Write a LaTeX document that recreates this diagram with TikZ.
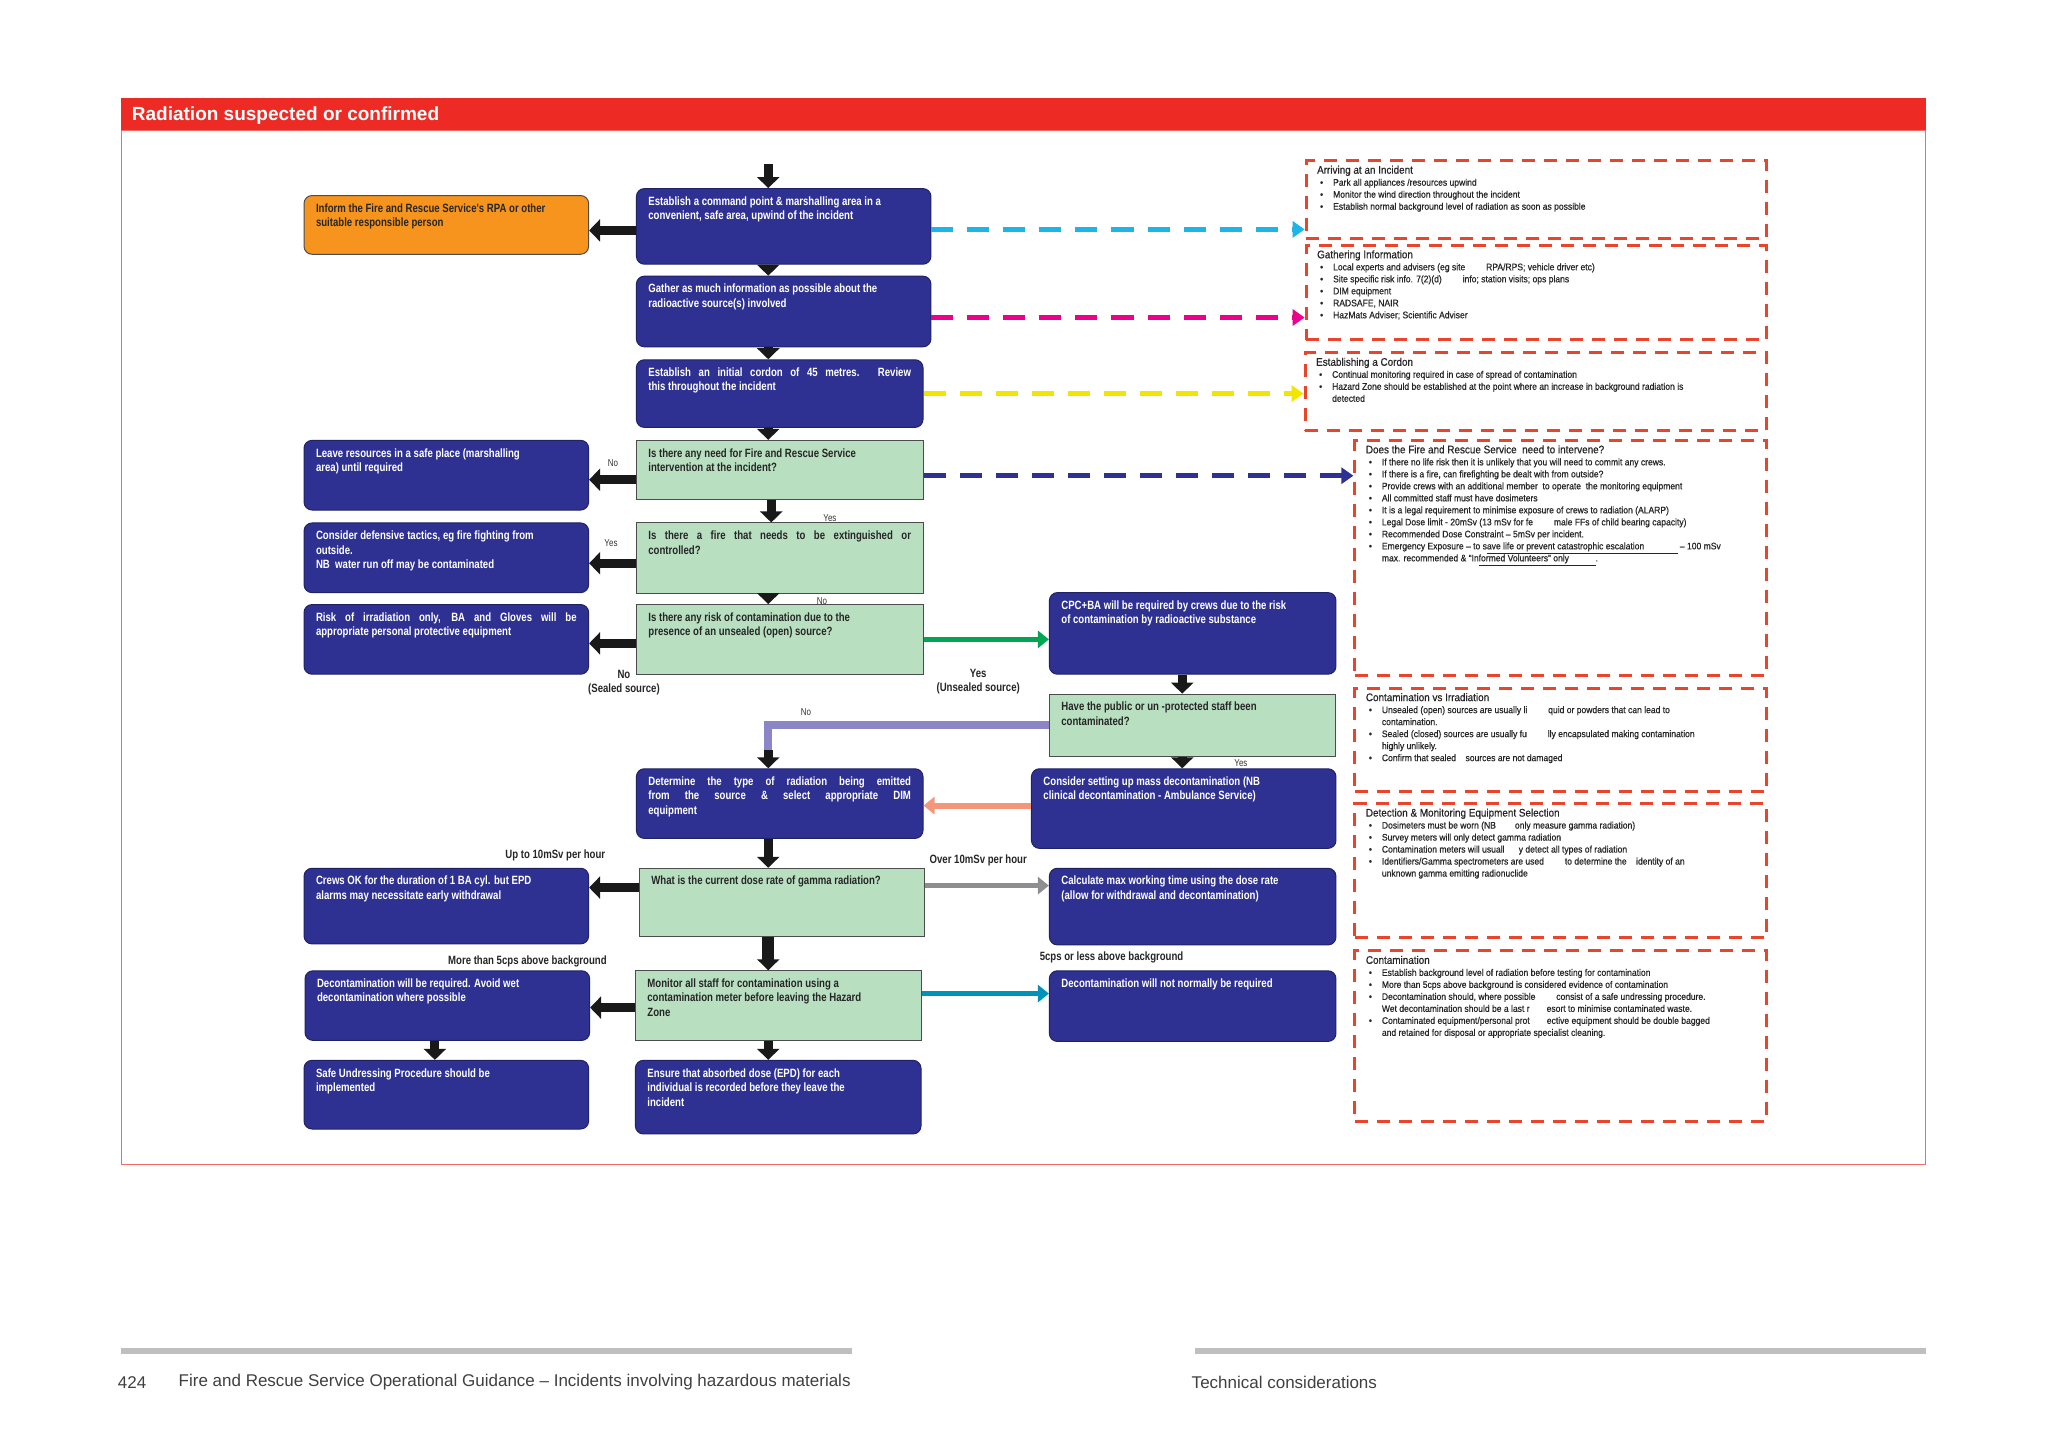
\documentclass[tikz,border=0pt]{standalone}
\usepackage{fontspec}
\setmainfont{Liberation Sans}
\newfontfamily\nar[FakeStretch=0.8]{Liberation Sans}
\newfontfamily\dsf[FakeStretch=0.9,FakeBold=0.6]{Liberation Sans}
\usetikzlibrary{arrows.meta,calc}
\definecolor{navy}{HTML}{2E3192}
\definecolor{gbox}{HTML}{B9DFC1}
\definecolor{orng}{HTML}{F7941D}
\definecolor{rred}{HTML}{EE2A24}
\definecolor{dred}{HTML}{E8452C}
\definecolor{cyn}{HTML}{1CB5E8}
\definecolor{mag}{HTML}{EC008C}
\definecolor{yel}{HTML}{F2E600}
\definecolor{grn}{HTML}{00A651}
\definecolor{purp}{HTML}{8C86C6}
\definecolor{salm}{HTML}{F4967A}
\definecolor{gry}{HTML}{8E8E90}
\definecolor{teal}{HTML}{0093B8}
\newcommand\bx[7]{%
 \pgfmathsetlengthmacro\bw{(#5-#3)*0.995pt-24pt}%
 \pgfmathsetlengthmacro\bh{(#6-#4)*0.995pt-16pt}%
 \node[#2, anchor=north west, inner xsep=12pt, inner ysep=8pt] (#1) at (#3,#4) {\parbox[c][\bh][t]{\bw}{#7}};}
\newcommand\dbx[6]{%
 \pgfmathsetlengthmacro\bw{(#5-#3)*0.995pt-22pt}%
 \pgfmathsetlengthmacro\bh{(#6-#4)*0.995pt-10pt}%
 \node[dbox, anchor=north west, inner xsep=11pt, inner ysep=5pt] (#1) at (#3,#4) {\parbox[c][\bh][t]{\bw}{#2}};}
\newcommand\bl[1]{\par\hangindent=16pt\hangafter=1\noindent\makebox[16pt][l]{\hspace{3pt}•}#1}
\newcommand\ttl[1]{{\fontsize{11}{13}\selectfont #1}}
\begin{document}
\begin{tikzpicture}[x=0.995pt,y=-0.995pt,
 blue/.style={draw=navy!70!black, line width=1pt, fill=navy, rounded corners=8pt, text=white, font=\nar\bfseries\fontsize{12}{14.5}\selectfont},
 gbx/.style={draw=black!70, line width=1pt, fill=gbox, text=black!85, font=\nar\bfseries\fontsize{12}{14.5}\selectfont},
 obx/.style={draw=black!70, line width=1pt, fill=orng, rounded corners=8pt, text=black!85, font=\nar\bfseries\fontsize{12}{14.5}\selectfont},
 dbox/.style={draw=dred, line width=3pt, dash pattern=on 13pt off 9pt, text=black!85, font=\dsf\fontsize{9.5}{12}\selectfont},
 blk/.style={line width=9pt, draw=black!90, -{Triangle[length=11pt,width=22pt]}},
 cdash/.style={line width=4.5pt, dash pattern=on 22pt off 14pt, -{Triangle[length=12pt,width=16pt]}},
 lab/.style={text=black!80, font=\nar\fontsize{10}{12}\selectfont},
 labb/.style={text=black!85, font=\nar\bfseries\fontsize{12}{14}\selectfont, align=center}]
\useasboundingbox (0,0) rectangle (2058,1455);
\fill[white] (0,0) rectangle (2058,1455);
% frame
\draw[rred!70, line width=1pt] (122,131) rectangle (1935,1170);
\fill[rred] (122,98) rectangle (1935,131);
\node[anchor=west, text=white, font=\bfseries\fontsize{19}{21}\selectfont] (hdr) at (129,116) {Radiation suspected or confirmed};
% footer
\fill[black!25] (122,1355) rectangle (856,1361);
\fill[black!25] (1201,1355) rectangle (1935,1361);
\node[anchor=west, text=black!75, font=\fontsize{17}{19}\selectfont] (pg) at (115,1389) {424};
\node[anchor=west, text=black!75, font=\fontsize{17}{19}\selectfont] (ft) at (176,1389) {Fire and Rescue Service Operational Guidance – Incidents involving hazardous materials};
\node[anchor=west, text=black!75, font=\fontsize{17}{19}\selectfont] (tc) at (1194,1389) {Technical considerations};
% boxes
\bx{or}{obx}{305}{196}{591}{255}{Inform the Fire and Rescue Service's RPA or other\\suitable responsible person}
\bx{b1}{blue}{639}{189}{935}{265}{Establish a command point \& marshalling area in a\\convenient, safe area, upwind of the incident}
\bx{b2}{blue}{639}{277}{935}{348}{Gather as much information as possible about the\\radioactive source(s) involved}
\bx{b3}{blue}{639}{361}{927}{429}{Establish an initial cordon of 45 metres. Review\linebreak this throughout the incident}
\bx{g1}{gbx}{639}{442}{927}{501}{Is there any need for Fire and Rescue Service\\intervention at the incident?}
\bx{g2}{gbx}{639}{525}{927}{596}{Is there a fire that needs to be extinguished or\linebreak controlled?}
\bx{g3}{gbx}{639}{607}{927}{677}{Is there any risk of contamination due to the\\presence of an unsealed (open) source?}
\bx{l1}{blue}{305}{442}{591}{512}{Leave resources in a safe place (marshalling\\area) until required}
\bx{l2}{blue}{305}{525}{591}{595}{Consider defensive tactics, eg fire fighting from\\outside.\\NB\ \ water run off may be contaminated}
\bx{l3}{blue}{305}{607}{591}{677}{Risk of irradiation only, BA and Gloves will be\linebreak appropriate personal protective equipment}
\bx{cpc}{blue}{1054}{595}{1342}{677}{CPC+BA will be required by crews due to the risk\\of contamination by radioactive substance}
\bx{hp}{gbx}{1054}{697}{1342}{760}{Have the public or un -protected staff been\\contaminated?}
\bx{det}{blue}{639}{772}{927}{842}{Determine the type of radiation being emitted\linebreak from the source \& select appropriate DIM\linebreak equipment}
\bx{cm}{blue}{1036}{772}{1342}{852}{Consider setting up mass decontamination (NB\\clinical decontamination - Ambulance Service)}
\bx{wd}{gbx}{642}{872}{929}{941}{What is the current dose rate of gamma radiation?}
\bx{co}{blue}{305}{872}{591}{948}{Crews OK for the duration of 1 BA cyl. but EPD\\alarms may necessitate early withdrawal}
\bx{cal}{blue}{1054}{872}{1342}{949}{Calculate max working time using the dose rate\\(allow for withdrawal and decontamination)}
\bx{mon}{gbx}{638}{975}{925}{1045}{Monitor all staff for contamination using a\\contamination meter before leaving the Hazard\\Zone}
\bx{dr}{blue}{306}{975}{592}{1045}{Decontamination will be required. Avoid wet\\decontamination where possible}
\bx{dn}{blue}{1054}{975}{1342}{1046}{Decontamination will not normally be required}
\bx{su}{blue}{305}{1065}{591}{1134}{Safe Undressing Procedure should be\\implemented}
\bx{en}{blue}{638}{1065}{925}{1139}{Ensure that absorbed dose (EPD) for each\\individual is recorded before they leave the\\incident}
% dashed info boxes
\dbx{d1}{\ttl{Arriving at an Incident}\bl{Park all appliances /resources upwind}\bl{Monitor the wind direction throughout the incident}\bl{Establish normal background level of radiation as soon as possible}}{1311}{160}{1774}{238}
\dbx{d2}{\ttl{Gathering Information}\bl{Local experts and advisers (eg site\hspace{2.2em}RPA/RPS; vehicle driver etc)}\bl{Site specific risk info. 7(2)(d)\hspace{2.2em}info; station visits; ops plans}\bl{DIM equipment}\bl{RADSAFE, NAIR}\bl{HazMats Adviser; Scientific Adviser}}{1311}{245}{1774}{340}
\dbx{d3}{\ttl{Establishing a Cordon}\bl{Continual monitoring required in case of spread of contamination}\bl{Hazard Zone should be established at the point where an increase in background radiation is\\detected}}{1310}{353}{1774}{431}
\dbx{d4}{\ttl{Does the Fire and Rescue Service\ \ need to intervene?}\bl{If there no life risk then it is unlikely that you will need to commit any crews.}\bl{If there is a fire, can firefighting be dealt with from outside?}\bl{Provide crews with an additional member\ \ to operate\ \ the monitoring equipment}\bl{All committed staff must have dosimeters}\bl{It is a legal requirement to minimise exposure of crews to radiation (ALARP)}\bl{Legal Dose limit - 20mSv (13 mSv for fe\hspace{2.2em}male FFs of child bearing capacity)}\bl{Recommended Dose Constraint – 5mSv per incident.}\bl{Emergency Exposure – to s\underline{ave life or prevent catastrophic escalation\hspace{3.5em}} – 100 mSv\\max. recommended \& “In\underline{formed Volunteers” only\hspace{2.8em}}.}}{1360}{441}{1774}{677}
\dbx{d5}{\ttl{Contamination vs Irradiation}\bl{Unsealed (open) sources are usually li\hspace{2.2em}quid or powders that can lead to\\contamination.}\bl{Sealed (closed) sources are usually fu\hspace{2.2em}lly encapsulated making contamination\\highly unlikely.}\bl{Confirm that sealed\hspace{1em}sources are not damaged}}{1360}{690}{1774}{794}
\dbx{d6}{\ttl{Detection \& Monitoring Equipment Selection}\bl{Dosimeters must be worn (NB\hspace{2em}only measure gamma radiation)}\bl{Survey meters will only detect gamma radiation}\bl{Contamination meters will usuall\hspace{1.5em}y detect all types of radiation}\bl{Identifiers/Gamma spectrometers are used\hspace{2.2em}to determine the\hspace{1em}identity of an\\unknown gamma emitting radionuclide}}{1360}{806}{1774}{941}
\dbx{d7}{\ttl{Contamination}\bl{Establish background level of radiation before testing for contamination}\bl{More than 5cps above background is considered evidence of contamination}\bl{Decontamination should, where possible\hspace{2.2em}consist of a safe undressing procedure.\\Wet decontamination should be a last r\hspace{1.8em}esort to minimise contaminated waste.}\bl{Contaminated equipment/personal prot\hspace{1.8em}ective equipment should be double bagged\\and retained for disposal or appropriate specialist cleaning.}}{1360}{954}{1774}{1125}
% coordinates
\coordinate (cx) at (772,165);
\coordinate (rx) at (1188,0);
\coordinate (lx) at (437,0);
% vertical arrows
\draw[blk] (cx) -- (b1.north -| cx);
\draw[blk] (b1.south -| cx) -- (b2.north -| cx);
\draw[blk] (b2.south -| cx) -- (b3.north -| cx);
\draw[blk] (b3.south -| cx) -- (g1.north -| cx);
\draw[blk] ($(g1.south -| cx)+(3,0)$) -- ($(g2.north -| cx)+(3,0)$);
\draw[blk] (g2.south -| cx) -- (g3.north -| cx);
\draw[blk] (cpc.south -| rx) -- (hp.north -| rx);
\draw[blk] (hp.south -| rx) -- (cm.north -| rx);
\draw[purp, line width=8pt] (hp.west) -- (hp.west -| cx) -- ++(0,25);
\draw[blk] ($(hp.west -| cx)+(0,25)$) -- (det.north -| cx);
\draw[blk] (det.south -| cx) -- (wd.north -| cx);
\draw[blk, line width=12pt] (wd.south -| cx) -- (mon.north -| cx);
\draw[blk] (mon.south -| cx) -- (en.north -| cx);
\draw[blk] (dr.south -| lx) -- (su.north -| lx);
% horizontal arrows
\draw[blk] ([yshift=-4pt]b1.west) -- ([yshift=-4pt]b1.west -| or.east);
\draw[blk] ([yshift=-10pt]g1.west) -- ([yshift=-10pt]g1.west -| l1.east);
\draw[blk] ([yshift=-5pt]g2.west) -- ([yshift=-5pt]g2.west -| l2.east);
\draw[blk] ([yshift=-4pt]g3.west) -- ([yshift=-4pt]g3.west -| l3.east);
\draw[blk] ([yshift=15pt]wd.west) -- ([yshift=15pt]wd.west -| co.east);
\draw[blk] ([yshift=-2pt]mon.west) -- ([yshift=-2pt]mon.west -| dr.east);
\draw[grn, line width=5pt, -{Triangle[length=11pt,width=17pt]}] (g3.east) -- (g3.east -| cpc.west);
\draw[salm, line width=6pt, -{Triangle[length=11pt,width=17pt]}] ([yshift=3pt]cm.west) -- ([yshift=3pt]cm.west -| det.east);
\draw[gry, line width=5pt, -{Triangle[length=11pt,width=17pt]}] ([yshift=17pt]wd.east) -- ([yshift=17pt]wd.east -| cal.west);
\draw[teal, line width=5pt, -{Triangle[length=11pt,width=17pt]}] ([yshift=12pt]mon.east) -- ([yshift=12pt]mon.east -| dn.west);
% coloured dashed
\draw[cdash, cyn] ([yshift=-3pt]b1.east) -- ([yshift=-3pt]b1.east -| d1.west);
\draw[cdash, mag] ([yshift=-6pt]b2.east) -- ([yshift=-6pt]b2.east -| d2.west);
\draw[cdash, yel] (b3.east) -- (b3.east -| d3.west);
\draw[cdash, navy] ([yshift=-6pt]g1.east) -- ([yshift=-6pt]g1.east -| d4.west);
% labels
\node[lab] (t1) at (616,465) {No};
\node[lab] (t2) at (834,521) {Yes};
\node[lab] (t3) at (614,546) {Yes};
\node[lab] (t4) at (826,604) {No};
\node[labb] (t5) at (627,686) {No\\(Sealed source)};
\node[labb] (t6) at (983,685) {Yes\\(Unsealed source)};
\node[lab] (t7) at (810,716) {No};
\node[lab] (t8) at (1247,767) {Yes};
\node[labb] (t9) at (558,860) {Up to 10mSv per hour};
\node[labb] (t10) at (983,865) {Over 10mSv per hour};
\node[labb] (t11) at (530,966) {More than 5cps above background};
\node[labb] (t12) at (1117,962) {5cps or less above background};
\end{tikzpicture}
\end{document}
